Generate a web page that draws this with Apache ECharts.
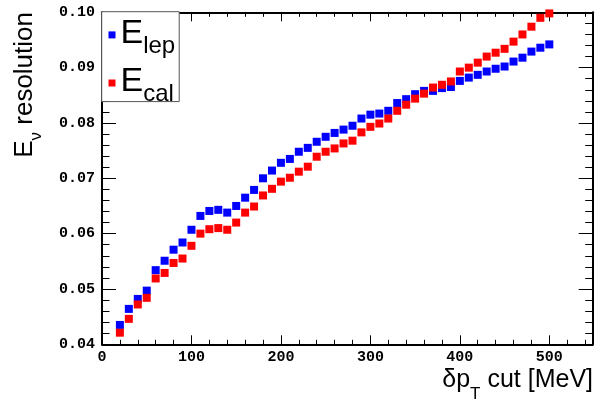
<!DOCTYPE html>
<html><head><meta charset="utf-8">
<script src="https://cdn.jsdelivr.net/npm/echarts@6/dist/echarts.min.js"></script>
<style>html,body{margin:0;padding:0;background:#fff}#c{width:600px;height:402px}</style>
</head><body><div id="c"></div>
<script>
// δpT cut values [MeV]
const cutValues = [20,30,40,50,60,70,80,90,100,110,120,130,140,150,160,170,180,190,200,210,220,230,240,250,260,270,280,290,300,310,320,330,340,350,360,370,380,390,400,410,420,430,440,450,460,470,480,490,500];
// E_lep resolution
const eLep = [0.0435,0.0464,0.0482,0.0497,0.0534,0.0551,0.0571,0.0584,0.0607,0.0632,0.0641,0.0643,0.0638,0.0650,0.0665,0.0679,0.0700,0.0714,0.0728,0.0735,0.0748,0.0755,0.0766,0.0775,0.0782,0.0788,0.0795,0.0808,0.0815,0.0817,0.0822,0.0836,0.0843,0.0852,0.0858,0.0858,0.0863,0.0865,0.0876,0.0882,0.0887,0.0893,0.0898,0.0902,0.0911,0.0918,0.0929,0.0936,0.0942];
// E_cal resolution
const eCal = [0.0421,0.0446,0.0472,0.0484,0.0519,0.0529,0.0547,0.0555,0.0578,0.0600,0.0608,0.0610,0.0607,0.0620,0.0638,0.0649,0.0669,0.0681,0.0694,0.0701,0.0712,0.0721,0.0739,0.0748,0.0754,0.0763,0.0768,0.0783,0.0793,0.0799,0.0808,0.0822,0.0833,0.0844,0.0853,0.0864,0.0869,0.0875,0.0893,0.0900,0.0909,0.0920,0.0927,0.0934,0.0947,0.0960,0.0974,0.0990,0.0998];
const seriesNames = ['E_lep', 'E_cal'];
const legendSubs = ['lep', 'cal'];

const X_MIN = 0, X_MAX = 548.5, X_INT = 100;
const Y_MIN = 0.04, Y_MAX = 0.10, Y_INT = 0.01;

const SANS = "'Liberation Sans', Arial, sans-serif";
const MONO = "'Liberation Mono', 'Courier New', monospace";

const chart = echarts.init(document.getElementById('c'), null, {renderer: 'canvas'});

function xAxisCfg(pos, showLabel) {
  return {
    type: 'value', position: pos, min: X_MIN, max: X_MAX, interval: X_INT,
    axisLine: {show: true, onZero: false, lineStyle: {color: '#000', width: 2}},
    axisTick: {show: true, inside: true, length: 9, lineStyle: {color: '#000', width: 1}},
    minorTick: {show: true, splitNumber: 5, length: 4.5, lineStyle: {color: '#000', width: 1}},
    splitLine: {show: false},
    axisLabel: {show: showLabel, margin: 5, color: '#000', fontFamily: MONO, fontWeight: 'bold', fontSize: 15,
      showMaxLabel: false}
  };
}
function yAxisCfg(pos, showLabel) {
  return {
    type: 'value', position: pos, min: Y_MIN, max: Y_MAX, interval: Y_INT,
    axisLine: {show: true, onZero: false, lineStyle: {color: '#000', width: 2}},
    axisTick: {show: true, inside: true, length: 14, lineStyle: {color: '#000', width: 1}},
    minorTick: {show: true, splitNumber: 5, length: 7.5, lineStyle: {color: '#000', width: 1}},
    splitLine: {show: false},
    axisLabel: {show: showLabel, margin: 7, color: '#000', fontFamily: MONO, fontWeight: 'bold', fontSize: 15,
      formatter: v => v.toFixed(2)}
  };
}

const option = {
  animation: false,
  backgroundColor: '#fff',
  grid: {left: 102, right: 7.3, top: 12.3, bottom: 57.7, containLabel: false},
  xAxis: [xAxisCfg('bottom', true), xAxisCfg('top', false)],
  yAxis: [yAxisCfg('left', true), yAxisCfg('right', false)],
  legend: {
    orient: 'vertical', left: 101.7, top: 11.7,
    padding: [0.2, 4, -4.4, 6.8], itemGap: 2.1,
    itemWidth: 7, itemHeight: 7, icon: 'rect',
    backgroundColor: '#fff', borderColor: '#555', borderWidth: 1,
    data: seriesNames,
    formatter: name => '{e|E}{s|' + legendSubs[seriesNames.indexOf(name)] + '}',
    textStyle: {
      color: '#000',
      rich: {
        e: {fontFamily: SANS, fontSize: 34, lineHeight: 34, padding: [0, 0, 2, 0], color: '#000'},
        s: {fontFamily: SANS, fontSize: 24, lineHeight: 7, padding: [22, 0, 0, 0], color: '#000'}
      }
    }
  },
  series: [
    {name: seriesNames[0], type: 'scatter', symbol: 'rect', symbolSize: 8, xAxisIndex: 0, yAxisIndex: 0,
      itemStyle: {color: '#0000ff', opacity: 1}, data: cutValues.map((x, i) => [x, eLep[i]])},
    {name: seriesNames[1], type: 'scatter', symbol: 'rect', symbolSize: 8, xAxisIndex: 0, yAxisIndex: 0,
      itemStyle: {color: '#ff0000', opacity: 1}, data: cutValues.map((x, i) => [x, eCal[i]])}
  ],
  graphic: [
    {type: 'text', x: 593, y: 380.5, z: 10,
      style: {text: '{m|δp}{s|T}{m| cut [MeV]}', align: 'right', verticalAlign: 'middle',
        textAlign: 'right', textVerticalAlign: 'middle',
        rich: {
          m: {fontFamily: SANS, fontSize: 25, lineHeight: 30, fill: '#000', color: '#000'},
          s: {fontFamily: SANS, fontSize: 17, lineHeight: 4, padding: [28, 0, 0, 0], fill: '#000', color: '#000'}
        }}},
    {type: 'text', x: 24.5, y: 12, rotation: Math.PI / 2, z: 10,
      style: {text: '{m|E}{s|ν}{m| resolution}', align: 'right', verticalAlign: 'middle',
        textAlign: 'right', textVerticalAlign: 'middle',
        rich: {
          m: {fontFamily: SANS, fontSize: 26, lineHeight: 28, fill: '#000', color: '#000'},
          s: {fontFamily: SANS, fontSize: 17, lineHeight: 4, padding: [24, 0, 0, 0], fill: '#000', color: '#000'}
        }}}
  ]
};
chart.setOption(option);
</script></body></html>
